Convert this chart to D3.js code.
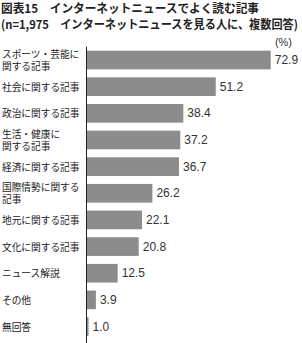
<!DOCTYPE html>
<meta charset="utf-8">
<script src="https://d3js.org/d3.v7.min.js"></script>
<style>
  body { margin: 0; background: #fff; }
  svg text { font-family: "Noto Sans CJK JP", sans-serif; }
  .val { font-family: "Liberation Sans", Arial, sans-serif; }
</style>
<div id="chart"></div>
<script>
  var categories = [
    ["スポーツ・芸能に", "関する記事"],
    ["社会に関する記事"],
    ["政治に関する記事"],
    ["生活・健康に", "関する記事"],
    ["経済に関する記事"],
    ["国際情勢に関する", "記事"],
    ["地元に関する記事"],
    ["文化に関する記事"],
    ["ニュース解説"],
    ["その他"],
    ["無回答"]
  ];
  var values = [72.9, 51.2, 38.4, 37.2, 36.7, 26.2, 22.1, 20.8, 12.5, 3.9, 1.0];
  var titleLines = [
    "図表15　インターネットニュースでよく読む記事",
    "(n=1,975　インターネットニュースを見る人に、複数回答)"
  ];
  var titleWidths = [258, 297];

  var W = 302, H = 343;
  var mLeft = 86, mTop = 46.7;

  var svg = d3.select("#chart").append("svg")
    .attr("width", W).attr("height", H);

  svg.selectAll("text.title")
    .data(titleLines)
    .enter().append("text")
    .attr("class", "title")
    .attr("x", 1)
    .attr("y", (d, i) => 13 + i * 15.5)
    .attr("textLength", (d, i) => titleWidths[i])
    .attr("lengthAdjust", "spacingAndGlyphs")
    .style("font-size", "12px")
    .style("font-weight", "bold")
    .attr("fill", "#222")
    .text(d => d);

  svg.append("text")
    .attr("class", "val")
    .attr("x", 292).attr("y", 46)
    .attr("text-anchor", "end")
    .style("font-size", "11px")
    .attr("fill", "#333")
    .text("(%)");

  var x = d3.scaleLinear().domain([0, 100]).range([0, 253.4]);
  var y = d3.scaleBand()
    .domain(d3.range(values.length))
    .range([mTop, mTop + 26.65 * values.length])
    .paddingInner(0.3).paddingOuter(0.15);

  var g = svg.append("g").attr("transform", "translate(" + mLeft + ",0)");

  g.selectAll("rect")
    .data(values)
    .enter().append("rect")
    .attr("x", 0)
    .attr("y", (d, i) => y(i))
    .attr("width", d => x(d))
    .attr("height", y.bandwidth())
    .attr("fill", "#8c8c8c");

  g.append("line")
    .attr("x1", 0.5).attr("x2", 0.5)
    .attr("y1", mTop).attr("y2", mTop + 26.65 * values.length + 5)
    .attr("stroke", "#222").attr("stroke-width", 1);

  g.selectAll("text.lab")
    .data(values)
    .enter().append("text")
    .attr("class", "val lab")
    .attr("x", d => x(d) + 4)
    .attr("y", (d, i) => y(i) + y.bandwidth() / 2 + 4)
    .style("font-size", "12px")
    .attr("fill", "#333")
    .text(d => d.toFixed(1));

  var cats = svg.selectAll("text.cat")
    .data(categories)
    .enter().append("text")
    .attr("class", "cat")
    .attr("x", 2)
    .attr("y", (d, i) => y(i) + y.bandwidth() / 2 + 4 - (d.length - 1) * 6)
    .style("font-size", "9.7px")
    .attr("fill", "#222");

  cats.selectAll("tspan")
    .data(d => d)
    .enter().append("tspan")
    .attr("x", 2)
    .attr("dy", (d, i) => i ? 12 : 0)
    .text(d => d);
</script>
